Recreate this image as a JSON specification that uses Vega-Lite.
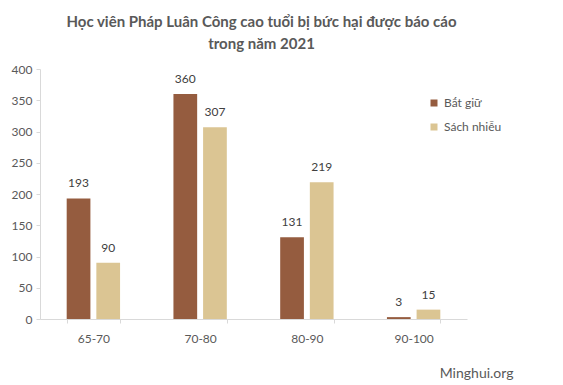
{
  "$schema": "https://vega.github.io/schema/vega-lite/v6.json",
  "width": 427,
  "height": 250,
  "autosize": {"type": "none"},
  "padding": {"left": 40, "top": 69, "right": 96, "bottom": 66},
  "background": "white",
  "config": {"view": {"stroke": null}, "font": "Lato"},
  "title": {
    "text": ["Học viên Pháp Luân Công cao tuổi bị bức hại được báo cáo", "trong năm 2021"],
    "anchor": "middle",
    "dx": 8,
    "offset": 11,
    "fontSize": 15,
    "fontWeight": "bold",
    "color": "#595959",
    "font": "Lato",
    "lineHeight": 22
  },
  "data": {
    "values": [
      {"age": "65-70", "type": "Bắt giữ", "count": 193},
      {"age": "65-70", "type": "Sách nhiễu", "count": 90},
      {"age": "70-80", "type": "Bắt giữ", "count": 360},
      {"age": "70-80", "type": "Sách nhiễu", "count": 307},
      {"age": "80-90", "type": "Bắt giữ", "count": 131},
      {"age": "80-90", "type": "Sách nhiễu", "count": 219},
      {"age": "90-100", "type": "Bắt giữ", "count": 3},
      {"age": "90-100", "type": "Sách nhiễu", "count": 15}
    ]
  },
  "encoding": {
    "x": {
      "field": "age", "type": "nominal", "sort": null,
      "scale": {"paddingInner": 0.5, "paddingOuter": 0.25},
      "axis": {
        "labelAngle": 0, "labelColor": "#595959", "labelFontSize": 12, "labelPadding": 10,
        "domainColor": "#d9d9d9", "tickColor": "#d9d9d9", "tickBand": "extent", "tickSize": 4,
        "title": "Minghui.org", "titleColor": "#595959", "titleFontSize": 14, "titleFontWeight": "normal",
        "titleAlign": "right", "titleAnchor": null, "titleX": 473, "titleY": 58, "titleBaseline": "alphabetic"
      }
    },
    "xOffset": {"field": "type", "type": "nominal", "scale": {"paddingInner": 0.2, "paddingOuter": 0}},
    "y": {
      "field": "count", "type": "quantitative",
      "scale": {"domain": [0, 400]},
      "axis": {
        "values": [0, 50, 100, 150, 200, 250, 300, 350, 400], "grid": false, "title": null,
        "labelColor": "#595959", "labelFontSize": 12, "labelPadding": 4,
        "domainColor": "#d9d9d9", "tickColor": "#d9d9d9", "tickSize": 4
      }
    },
    "color": {
      "field": "type", "type": "nominal",
      "scale": {"domain": ["Bắt giữ", "Sách nhiễu"], "range": ["#955C3F", "#DBC593"]},
      "legend": {
        "title": null, "orient": "none", "legendX": 388, "legendY": 28,
        "symbolType": "square", "symbolSize": 49, "labelFontSize": 12, "labelColor": "#595959",
        "rowPadding": 12, "symbolStrokeWidth": 0
      }
    }
  },
  "layer": [
    {"mark": {"type": "bar"}},
    {"mark": {"type": "text", "dy": -8, "baseline": "bottom", "fontSize": 12, "color": "#404040"}, "encoding": {"text": {"field": "count", "type": "quantitative"}, "color": {"value": "#404040"}}}
  ]
}
